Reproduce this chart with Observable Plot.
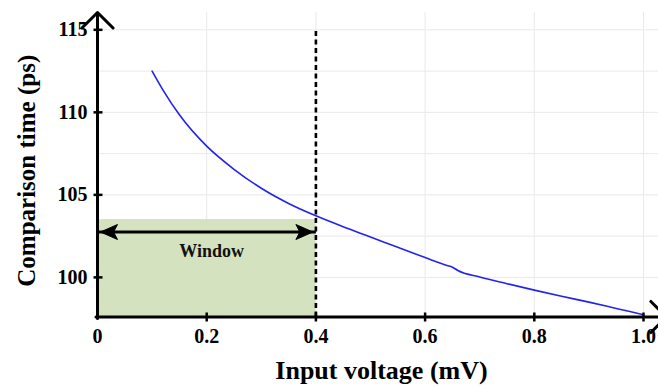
<!DOCTYPE html>
<html>
<head>
<meta charset="utf-8">
<script src="https://cdn.jsdelivr.net/npm/d3@7"></script>
<script src="https://cdn.jsdelivr.net/npm/@observablehq/plot@0.6"></script>
<style>
  html, body { margin: 0; padding: 0; background: #fff; }
</style>
</head>
<body>
<div id="chart"></div>
<script>
// ---- data ----
const voltage = [0.10, 0.12, 0.15, 0.20, 0.25, 0.30, 0.35, 0.40, 0.45, 0.50, 0.55, 0.60, 0.64, 0.65, 0.66, 0.70, 0.75, 0.80, 0.85, 0.90, 0.95, 1.00];
const compTime = [112.5, 111.35, 109.85, 107.95, 106.55, 105.4, 104.48, 103.73, 103.07, 102.45, 101.82, 101.2, 100.72, 100.62, 100.42, 100.02, 99.62, 99.23, 98.86, 98.5, 98.12, 97.74];
const xTicks = [0, 0.2, 0.4, 0.6, 0.8, 1.0];
const xTickLabels = ["0", "0.2", "0.4", "0.6", "0.8", "1.0"];
const yTicks = [100, 105, 110, 115];
const xGrid = [0.2, 0.4, 0.6, 0.8, 1.0];
const yGrid = [100, 102.5, 105, 107.5, 110, 112.5, 115];
const xDomain = [0, 1];
const yDomain = [97.6, 116.05];
const windowRange = [0, 0.4];
const windowTop = 103.5;
const windowArrowY = 102.75;
const windowLabel = "Window";
const windowLabelPos = [0.2, 101.6];
const xTitle = "Input voltage (mV)";
const yTitle = "Comparison time (ps)";

const series = voltage.map((v, i) => ({x: v, y: compTime[i]}));

// ---- styles ----
const font = "'Liberation Serif', 'Times New Roman', serif";
const headLeft = {draw(ctx) { ctx.moveTo(0, 0); ctx.lineTo(17, -7.5); ctx.lineTo(13, 0); ctx.lineTo(17, 7.5); ctx.closePath(); }};
const headRight = {draw(ctx) { ctx.moveTo(0, 0); ctx.lineTo(-17, -7.5); ctx.lineTo(-13, 0); ctx.lineTo(-17, 7.5); ctx.closePath(); }};
const hTick = {draw(ctx) { ctx.moveTo(-4, 0); ctx.lineTo(5, 0); }};
const vTick = {draw(ctx) { ctx.moveTo(0, -4.5); ctx.lineTo(0, 4.5); }};

const chart = Plot.plot({
  width: 658,
  height: 387,
  marginLeft: 97,
  marginRight: 15,
  marginTop: 12,
  marginBottom: 70.5,
  style: {fontFamily: font, fontWeight: "bold", background: "#fff"},
  x: {domain: xDomain},
  y: {domain: yDomain},
  marks: [
    // grid
    Plot.ruleY(yGrid, {y: d => d, x1: xDomain[0], x2: 1.03, stroke: "#e9e9e9", strokeWidth: 1}),
    Plot.ruleX(xGrid, {x: d => d, y1: yDomain[0], y2: yDomain[1], stroke: "#e9e9e9", strokeWidth: 1}),
    // window area
    Plot.rect([{x1: windowRange[0], x2: windowRange[1], y1: yDomain[0], y2: windowTop}], {x1: "x1", x2: "x2", y1: "y1", y2: "y2", fill: "#d5e2bf"}),
    // dashed threshold
    Plot.ruleX([windowRange[1]], {y1: yDomain[0], y2: 115, stroke: "#000", strokeWidth: 2.6, strokeDasharray: "5,3.5"}),
    // curve
    Plot.line(series, {x: "x", y: "y", stroke: "#2323ee", strokeWidth: 1.6, curve: "monotone-x"}),
    // window arrow
    Plot.link([{x1: windowRange[0], x2: windowRange[1], y: windowArrowY}], {x1: "x1", x2: "x2", y1: "y", y2: "y", stroke: "#000", strokeWidth: 3}),
    Plot.dot([{x: windowRange[0], y: windowArrowY}], {x: "x", y: "y", symbol: headLeft, fill: "#000", stroke: "#000", strokeWidth: 1, dx: 3}),
    Plot.dot([{x: windowRange[1], y: windowArrowY}], {x: "x", y: "y", symbol: headRight, fill: "#000", stroke: "#000", strokeWidth: 1, dx: -3}),
    Plot.text([windowLabel], {x: windowLabelPos[0], y: windowLabelPos[1], text: d => d, fontSize: 18, fontWeight: "bold", fill: "#111", dx: 5}),
    // axes lines with arrows
    Plot.arrow([{x1: 0, y1: yDomain[0], x2: 0, y2: yDomain[1]}], {x1: "x1", y1: "y1", x2: "x2", y2: "y2", stroke: "#000", strokeWidth: 3, headLength: 11, headAngle: 90, insetStart: -1.5}),
    Plot.arrow([{x1: 0, y1: yDomain[0], x2: 1.042, y2: yDomain[0]}], {x1: "x1", y1: "y1", x2: "x2", y2: "y2", stroke: "#000", strokeWidth: 3, headLength: 11, headAngle: 90, insetStart: -1.5}),
    // ticks
    Plot.dot(yTicks, {x: 0, y: d => d, symbol: hTick, stroke: "#000", strokeWidth: 2.5, fill: "none"}),
    Plot.dot(xGrid, {x: d => d, y: yDomain[0], symbol: vTick, stroke: "#000", strokeWidth: 2.5, fill: "none"}),
    // tick labels
    Plot.axisY(yTicks, {tickSize: 0, tickPadding: 10, fontSize: 20, fontWeight: "bold", label: null, fill: "#000"}),
    Plot.axisX(xTicks, {tickSize: 0, tickPadding: 12, fontSize: 20, fontWeight: "bold", label: null, fill: "#000", tickFormat: (d, i) => xTickLabels[i]}),
    // titles
    Plot.text([xTitle], {frameAnchor: "bottom", text: d => d, fontSize: 26, fontWeight: "bold", fill: "#000", dx: 11, dy: 62}),
    Plot.text([yTitle], {frameAnchor: "left", textAnchor: "middle", text: d => d, fontSize: 25, fontWeight: "bold", fill: "#000", rotate: -90, dx: -71, dy: 6})
  ]
});
document.getElementById("chart").appendChild(chart);
</script>
</body>
</html>
